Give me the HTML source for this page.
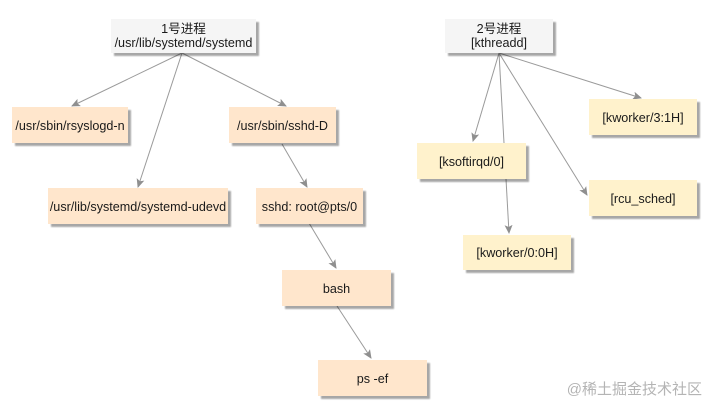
<!DOCTYPE html>
<html>
<head>
<meta charset="utf-8">
<style>
  html, body { margin: 0; padding: 0; background: #ffffff; }
  body { width: 716px; height: 410px; overflow: hidden; }
  svg { display: block; }
  text { font-family: "Liberation Sans", "Noto Sans CJK SC", sans-serif; font-size: 12.6px; fill: #1a1a1a; }
  .wm { font-size: 15px; fill: #b4b4b4; }
</style>
</head>
<body>
<svg width="716" height="410" viewBox="0 0 716 410" xmlns="http://www.w3.org/2000/svg">
  <defs>
    <filter id="sh" x="-10%" y="-20%" width="130%" height="160%">
      <feGaussianBlur in="SourceAlpha" stdDeviation="0.9"/>
      <feOffset dx="3" dy="3" result="o"/>
      <feComponentTransfer><feFuncA type="linear" slope="0.35"/></feComponentTransfer>
      <feMerge><feMergeNode/><feMergeNode in="SourceGraphic"/></feMerge>
    </filter>
    <marker id="ar" markerWidth="10" markerHeight="10" refX="8" refY="4" orient="auto" markerUnits="userSpaceOnUse">
      <path d="M0,0 L9,4 L0,8 L2,4 Z" fill="#8f8f8f"/>
    </marker>
  </defs>

  <!-- connectors -->
  <g stroke="#9a9a9a" stroke-width="1" fill="none">
    <line x1="182" y1="53" x2="72" y2="106" marker-end="url(#ar)"/>
    <line x1="182" y1="53" x2="138" y2="187" marker-end="url(#ar)"/>
    <line x1="182" y1="53" x2="286" y2="106" marker-end="url(#ar)"/>
    <line x1="282" y1="144" x2="307" y2="187" marker-end="url(#ar)"/>
    <line x1="309" y1="223" x2="336" y2="268" marker-end="url(#ar)"/>
    <line x1="337" y1="306" x2="371" y2="358" marker-end="url(#ar)"/>

    <line x1="499" y1="53" x2="473" y2="141" marker-end="url(#ar)"/>
    <line x1="499" y1="53" x2="509" y2="233" marker-end="url(#ar)"/>
    <line x1="499" y1="53" x2="587" y2="195" marker-end="url(#ar)"/>
    <line x1="499" y1="53" x2="641" y2="98" marker-end="url(#ar)"/>
  </g>

  <!-- root boxes -->
  <g filter="url(#sh)">
    <rect x="111" y="19" width="145" height="34" fill="#f5f5f5"/>
    <rect x="445" y="19" width="108" height="34" fill="#f5f5f5"/>
  </g>
  <text x="183.5" y="33" text-anchor="middle">1号进程</text>
  <text x="183.5" y="47" text-anchor="middle">/usr/lib/systemd/systemd</text>
  <text x="499" y="33" text-anchor="middle">2号进程</text>
  <text x="499" y="47" text-anchor="middle">[kthreadd]</text>

  <!-- left tree (peach) -->
  <g filter="url(#sh)" fill="#ffe6cc">
    <rect x="12" y="107" width="116" height="36"/>
    <rect x="229" y="107" width="107" height="36"/>
    <rect x="48" y="188" width="180" height="36"/>
    <rect x="256" y="188" width="107" height="36"/>
    <rect x="282" y="270" width="109" height="36"/>
    <rect x="318" y="360" width="109" height="36"/>
  </g>
  <text x="70" y="130" text-anchor="middle">/usr/sbin/rsyslogd-n</text>
  <text x="282.5" y="130" text-anchor="middle">/usr/sbin/sshd-D</text>
  <text x="138" y="211" text-anchor="middle">/usr/lib/systemd/systemd-udevd</text>
  <text x="309.5" y="211" text-anchor="middle">sshd: root@pts/0</text>
  <text x="336.5" y="293" text-anchor="middle">bash</text>
  <text x="372.5" y="383" text-anchor="middle">ps -ef</text>

  <!-- right tree (yellow) -->
  <g filter="url(#sh)" fill="#fff2cc">
    <rect x="589" y="99" width="108" height="36"/>
    <rect x="417" y="143" width="109" height="36"/>
    <rect x="589" y="180" width="108" height="36"/>
    <rect x="463" y="235" width="108" height="35"/>
  </g>
  <text x="643" y="122" text-anchor="middle">[kworker/3:1H]</text>
  <text x="471.5" y="166" text-anchor="middle">[ksoftirqd/0]</text>
  <text x="643" y="203" text-anchor="middle">[rcu_sched]</text>
  <text x="517" y="257" text-anchor="middle">[kworker/0:0H]</text>

  <!-- watermark -->
  <text class="wm" x="702" y="394" text-anchor="end">@稀土掘金技术社区</text>
</svg>
</body>
</html>
